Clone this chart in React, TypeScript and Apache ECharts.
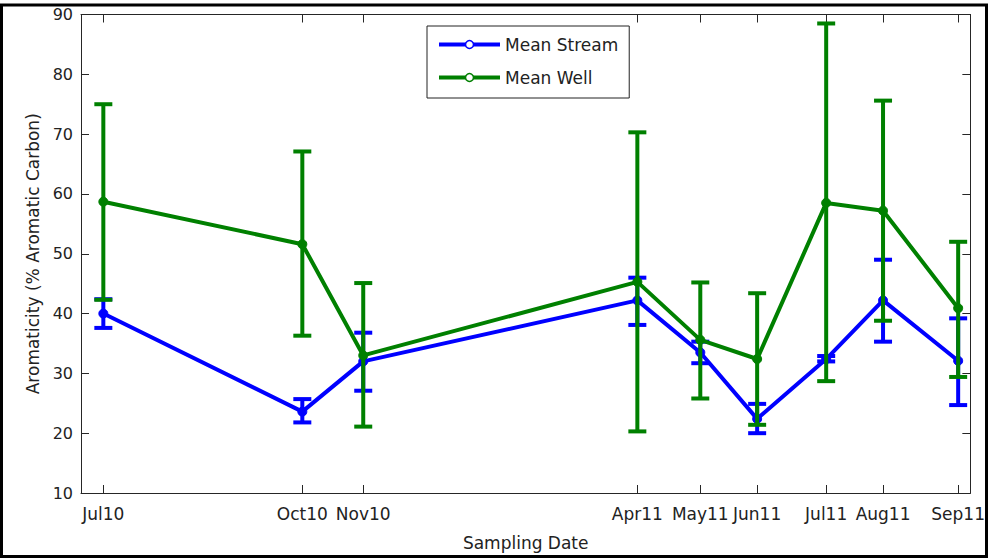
import React, { useEffect, useRef } from "react";
import * as echarts from "echarts";

const sampleDates = ["2010-07-14", "2010-10-20", "2010-11-19", "2011-04-03", "2011-05-04", "2011-06-01", "2011-07-05", "2011-08-02", "2011-09-08"];
const dateLabels = ["Jul10", "Oct10", "Nov10", "Apr11", "May11", "Jun11", "Jul11", "Aug11", "Sep11"];

const streamMean = [40.0, 23.6, 32.0, 42.2, 33.5, 22.4, 32.4, 42.2, 32.1];
const streamLow = [37.6, 21.8, 27.1, 38.1, 31.7, 20.0, 32.0, 35.3, 24.7];
const streamHigh = [42.4, 25.7, 36.8, 46.0, 35.3, 24.9, 32.9, 49.0, 39.2];

const wellMean = [58.7, 51.6, 33.0, 45.3, 35.6, 32.4, 58.5, 57.2, 40.9];
const wellLow = [42.3, 36.3, 21.1, 20.3, 25.8, 21.4, 28.7, 38.8, 29.4];
const wellHigh = [75.0, 67.1, 45.1, 70.3, 45.2, 43.4, 88.5, 75.6, 52.0];

const yTicks = [10, 20, 30, 40, 50, 60, 70, 80, 90];

const DAY = 86400000;
const t0 = Date.parse(sampleDates[0]);
const dayNums = sampleDates.map((d) => Math.round((Date.parse(d) - t0) / DAY));

const FONT = "DejaVu Sans, Liberation Sans, sans-serif";
const BLUE = "#0000ff";
const GREEN = "#008000";

function errorSeries(name: string, color: string, low: number[], high: number[], z: number) {
  return {
    type: "custom",
    name: name + " err",
    z,
    silent: true,
    data: dayNums.map((d, i) => [d, low[i], high[i]]),
    encode: { x: 0, y: [1, 2] },
    renderItem: (params: any, api: any) => {
      const x = api.value(0);
      const lo = api.coord([x, api.value(1)]);
      const hi = api.coord([x, api.value(2)]);
      const half = 9;
      const style = { stroke: color, lineWidth: 4 };
      return {
        type: "group",
        children: [
          { type: "line", shape: { x1: lo[0], y1: lo[1], x2: hi[0], y2: hi[1] }, style },
          { type: "line", shape: { x1: lo[0] - half, y1: lo[1], x2: lo[0] + half, y2: lo[1] }, style },
          { type: "line", shape: { x1: hi[0] - half, y1: hi[1], x2: hi[0] + half, y2: hi[1] }, style },
        ],
      };
    },
  };
}

function lineSeries(name: string, color: string, vals: number[], z: number) {
  return {
    type: "line",
    name,
    z,
    data: dayNums.map((d, i) => [d, vals[i]]),
    symbol: "circle",
    symbolSize: 9,
    lineStyle: { color, width: 4 },
    itemStyle: { color, borderColor: color, borderWidth: 1 },
  };
}

export default function App() {
  const ref = useRef<HTMLDivElement>(null);
  useEffect(() => {
    if (!ref.current) return;
    const chart = echarts.init(ref.current, undefined, { renderer: "svg" });
    const labelFor = (v: number) => {
      const i = dayNums.findIndex((d) => Math.abs(d - v) < 0.5);
      return i >= 0 ? dateLabels[i] : "";
    };
    const axisColor = "#262626";
    const xCommon = {
      type: "value",
      min: -11,
      max: 427,
      splitLine: { show: false },
      axisLine: { show: true, onZero: false, lineStyle: { color: axisColor, width: 1 } },
      axisTick: { show: true, inside: true, length: 8, customValues: dayNums, lineStyle: { color: axisColor } },
    };
    const yCommon = {
      type: "value",
      min: 10,
      max: 90,
      interval: 10,
      splitLine: { show: false },
      axisLine: { show: true, onZero: false, lineStyle: { color: axisColor, width: 1 } },
      axisTick: { show: true, inside: true, length: 8, lineStyle: { color: axisColor } },
    };
    chart.setOption({
      animation: false,
      backgroundColor: "#ffffff",
      textStyle: { fontFamily: FONT },
      grid: { left: 81, right: 14, top: 14.5, bottom: 65, containLabel: false },
      legend: {
        left: 427,
        top: 26,
        orient: "vertical",
        data: [
          { name: "Mean Stream", itemStyle: { color: "#fff", borderColor: BLUE, borderWidth: 1.5 } },
          { name: "Mean Well", itemStyle: { color: "#fff", borderColor: GREEN, borderWidth: 1.5 } },
        ],
        itemWidth: 61,
        itemHeight: 10,
        itemGap: 16,
        padding: [10, 11, 12, 10],
        lineStyle: { width: 4 },
        borderColor: "#222",
        borderWidth: 1,
        backgroundColor: "#fff",
        textStyle: { fontSize: 17, color: "#222", fontFamily: FONT },
      },
      xAxis: [
        {
          ...xCommon,
          position: "bottom",
          name: "Sampling Date",
          nameLocation: "middle",
          nameGap: 41,
          nameTextStyle: { fontSize: 17, color: "#222", fontFamily: FONT },
          axisLabel: {
            show: true,
            customValues: dayNums,
            formatter: (v: number) => labelFor(v),
            fontSize: 17,
            color: "#222",
            margin: 12,
            fontFamily: FONT,
          },
        },
        { ...xCommon, position: "top", axisLabel: { show: false } },
      ],
      yAxis: [
        {
          ...yCommon,
          position: "left",
          name: "Aromaticity (% Aromatic Carbon)",
          nameLocation: "middle",
          nameGap: 40,
          nameTextStyle: { fontSize: 17, color: "#222", fontFamily: FONT },
          axisLabel: {
            show: true,
            fontSize: 16,
            color: "#222",
            margin: 8,
            fontFamily: FONT,
            formatter: (v: number) => (yTicks.includes(v) ? String(v) : ""),
          },
        },
        { ...yCommon, position: "right", axisLabel: { show: false } },
      ],
      series: [
        errorSeries("Mean Stream", BLUE, streamLow, streamHigh, 2),
        lineSeries("Mean Stream", BLUE, streamMean, 3),
        errorSeries("Mean Well", GREEN, wellLow, wellHigh, 4),
        lineSeries("Mean Well", GREEN, wellMean, 5),
      ],
      graphic: [
        {
          type: "rect",
          shape: { x: 1.5, y: 5, width: 985, height: 551.5 },
          style: { fill: "none", stroke: "#000", lineWidth: 3 },
          z: 100,
          silent: true,
        },
      ],
    });
    return () => chart.dispose();
  }, []);
  return <div ref={ref} style={{ position: "fixed", left: 0, top: 0, width: 988, height: 558 }} />;
}
